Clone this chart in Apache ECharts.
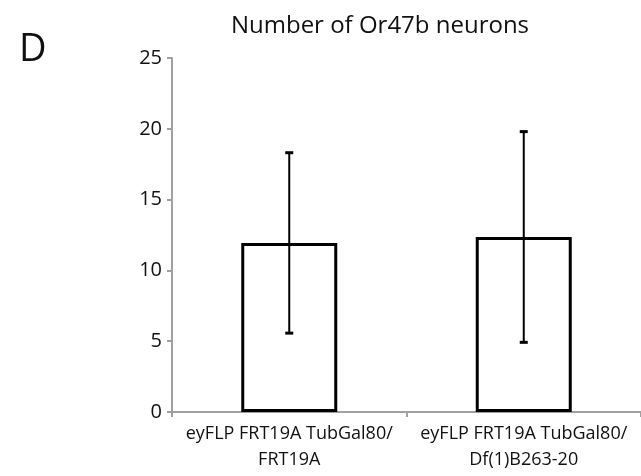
<!DOCTYPE html>
<html>
<head>
<meta charset="utf-8">
<script src="https://cdn.jsdelivr.net/npm/echarts@6/dist/echarts.min.js"></script>
<style>
html,body{margin:0;padding:0;background:#fff;}
#chart{width:641px;height:476px;}
</style>
</head>
<body>
<div id="chart"></div>
<script>
var categories = ['eyFLP FRT19A TubGal80/\nFRT19A', 'eyFLP FRT19A TubGal80/\nDf(1)B263-20'];
var means = [11.94, 12.36];
var errors = [6.37, 7.44];
var yTicks = [0, 5, 10, 15, 20, 25];

var FONT = "'Open Sans', sans-serif";
var chart = echarts.init(document.getElementById('chart'));
var errData = means.map(function (m, i) { return [i, m - errors[i], m + errors[i]]; });

chart.setOption({
  animation: false,
  title: {
    text: 'Number of Or47b neurons',
    left: 375, top: 9, textAlign: 'center',
    textStyle: { fontFamily: FONT, fontSize: 24, fontWeight: 'normal', color: '#111' }
  },
  graphic: [{
    type: 'text', left: 19, top: 31,
    style: { text: 'D', font: '38px ' + FONT, fill: '#111' }
  }],
  grid: { left: 172, right: -3, top: 58, bottom: 64 },
  xAxis: {
    type: 'category', data: categories,
    axisLine: { lineStyle: { color: '#a0a0a0', width: 2 } },
    axisTick: { show: true, length: 5, lineStyle: { color: '#a0a0a0', width: 2 } },
    axisLabel: { interval: 0, hideOverlap: false, fontFamily: FONT, fontSize: 18, lineHeight: 26, color: '#111', margin: 9 }
  },
  yAxis: {
    type: 'value', min: yTicks[0], max: yTicks[yTicks.length - 1], interval: 5,
    axisLine: { show: true, lineStyle: { color: '#a0a0a0', width: 2 } },
    axisTick: { show: true, length: 5, lineStyle: { color: '#a0a0a0', width: 2 } },
    splitLine: { show: false },
    axisLabel: { fontFamily: FONT, fontSize: 20, color: '#111', margin: 10 }
  },
  series: [{
    type: 'bar', data: means, barWidth: 96,
    itemStyle: { color: '#fff', borderColor: '#000', borderWidth: 3 }
  }, {
    type: 'custom', data: errData, z: 5,
    renderItem: function (params, api) {
      var x = api.value(0);
      var lo = api.coord([x, api.value(1)]);
      var hi = api.coord([x, api.value(2)]);
      var cap = 4;
      var st = { stroke: '#000', lineWidth: 2 };
      return { type: 'group', children: [
        { type: 'line', shape: { x1: lo[0], y1: lo[1], x2: hi[0], y2: hi[1] }, style: st },
        { type: 'line', shape: { x1: lo[0] - cap, y1: lo[1], x2: lo[0] + cap, y2: lo[1] }, style: { stroke: '#000', lineWidth: 3 } },
        { type: 'line', shape: { x1: hi[0] - cap, y1: hi[1], x2: hi[0] + cap, y2: hi[1] }, style: { stroke: '#000', lineWidth: 3 } }
      ]};
    }
  }]
});
</script>
</body>
</html>
